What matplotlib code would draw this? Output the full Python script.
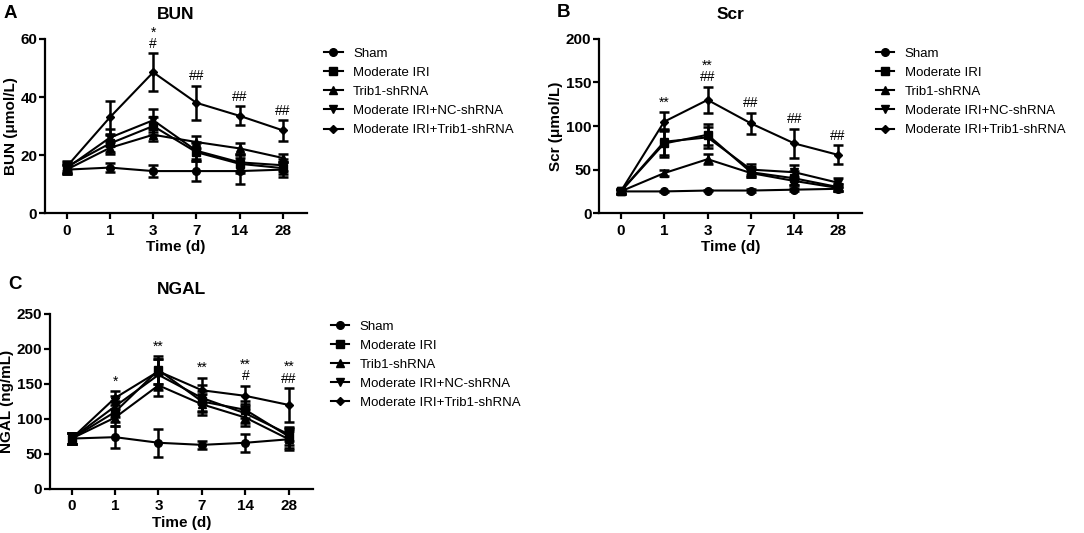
import matplotlib
matplotlib.use("Agg")
import matplotlib.pyplot as plt

plt.rcParams['font.family'] = ['Liberation Sans', 'DejaVu Sans']

times = ["0", "1", "3", "7", "14", "28"]
groups = ["Sham", "Moderate IRI", "Trib1-shRNA", "Moderate IRI+NC-shRNA", "Moderate IRI+Trib1-shRNA"]
markers = ["o", "s", "^", "v", "D"]

# BUN (umol/L)
bun_mean = [
    [15, 15.7, 14.5, 14.5, 14.5, 15],
    [16, 24, 30, 21, 17, 15.5],
    [15, 22.5, 27, 24.5, 22.3, 19],
    [15.5, 26, 32, 21.5, 17.5, 16.5],
    [16, 33, 48.5, 38, 33.5, 28.5],
]
bun_err = [
    [1.5, 1.5, 2, 3.5, 4.5, 2.5],
    [2, 3, 3, 3, 3, 2],
    [1.5, 2, 2, 2, 2, 1.5],
    [1.5, 3, 4, 3, 3, 2],
    [1.5, 5.6, 6.5, 5.8, 3.3, 3.5],
]
bun_marks = ["", "", "*\n#", "##", "##", "##"]

# Scr (umol/L)
scr_mean = [
    [25, 25, 26, 26, 27, 28],
    [25, 80, 90, 47, 40, 30],
    [25, 46, 62, 46, 37, 29],
    [25, 82, 87, 50, 47, 35],
    [25, 105, 130, 103, 80, 67],
]
scr_err = [
    [2, 1, 1, 2, 2, 2],
    [3, 15, 12, 6, 8, 4],
    [2, 3, 6, 5, 5, 4],
    [3, 15, 12, 6, 8, 5],
    [3, 11, 15, 12, 17, 11],
]
scr_marks = ["", "**", "**\n##", "##", "##", "##"]

# NGAL (ng/mL)
ngal_mean = [
    [72, 74, 66, 63, 66, 71],
    [72, 110, 170, 125, 113, 75],
    [72, 102, 148, 121, 102, 71],
    [72, 118, 163, 130, 108, 78],
    [72, 130, 168, 141, 133, 120],
]
ngal_err = [
    [8, 16, 20, 6, 13, 15],
    [8, 15, 20, 15, 12, 12],
    [8, 12, 15, 15, 12, 12],
    [8, 15, 22, 18, 14, 10],
    [8, 10, 18, 18, 14, 24],
]
ngal_marks = ["", "*", "**", "**", "**\n#", "**\n##"]

fig = plt.figure(figsize=(10.84, 5.33), dpi=100)

panels = [
    ("A", 1.095, "BUN", "BUN (μmol/L)", bun_mean, bun_err, bun_marks, 60, 20,
     [0.0415, 0.600, 0.2415, 0.327], (0.288, 0.933)),
    ("B", 1.10, "Scr", "Scr (μmol/L)", scr_mean, scr_err, scr_marks, 200, 50,
     [0.5526, 0.600, 0.2424, 0.327], (0.797, 0.933)),
    ("C", 1.12, "NGAL", "NGAL (ng/mL)", ngal_mean, ngal_err, ngal_marks, 250, 50,
     [0.046, 0.0826, 0.2425, 0.3284], (0.294, 0.421)),
]

x = list(range(len(times)))

for letter, ly, title, ylabel, means, errs, marks, ymax, ystep, pos, legpos in panels:
    ax = fig.add_axes(pos)
    handles = []
    for g in range(len(groups)):
        ms = 4 if markers[g] == "D" else 5.5
        c = ax.errorbar(x, means[g], yerr=errs[g], color="black", marker=markers[g],
                        markersize=ms, linewidth=1.5, elinewidth=1.8, capsize=3.5,
                        capthick=1.8, clip_on=False)
        handles.append(c[0])
    # significance marks above the top series
    for i, txt in enumerate(marks):
        if txt:
            top = max(means[g][i] + errs[g][i] for g in range(len(groups)))
            ax.text(i, top + ymax * 0.015, txt, ha="center", va="bottom",
                    fontsize=10, linespacing=0.75)
    ax.set_xlim(-0.5, 5.55)
    ax.set_ylim(0, ymax)
    ax.set_yticks(range(0, ymax + 1, ystep))
    ax.set_xticks(x)
    ax.set_xticklabels(times)
    for side in ["top", "right"]:
        ax.spines[side].set_visible(False)
    for side in ["left", "bottom"]:
        ax.spines[side].set_linewidth(1.6)
    ax.tick_params(width=1.6, length=4, labelsize=11)
    ax.tick_params(axis="y", pad=1.5)
    for lab in ax.get_xticklabels() + ax.get_yticklabels():
        lab.set_fontweight("bold")
    ax.set_ylabel(ylabel, fontsize=11, fontweight="bold", labelpad=2)
    ax.set_xlabel("Time (d)", fontsize=11, fontweight="bold", labelpad=2)
    ax.set_title(title, fontsize=12.5, fontweight="bold", pad=14)
    ax.text(-0.16, ly, letter, transform=ax.transAxes, fontsize=13.5,
            fontweight="bold", va="bottom", ha="left")
    ax.legend(handles, groups, loc="upper left", bbox_to_anchor=legpos,
              bbox_transform=fig.transFigure, frameon=False, fontsize=9.5,
              handlelength=1.4, labelspacing=0.52, handletextpad=0.8)

fig.savefig("out.png", dpi=100)
